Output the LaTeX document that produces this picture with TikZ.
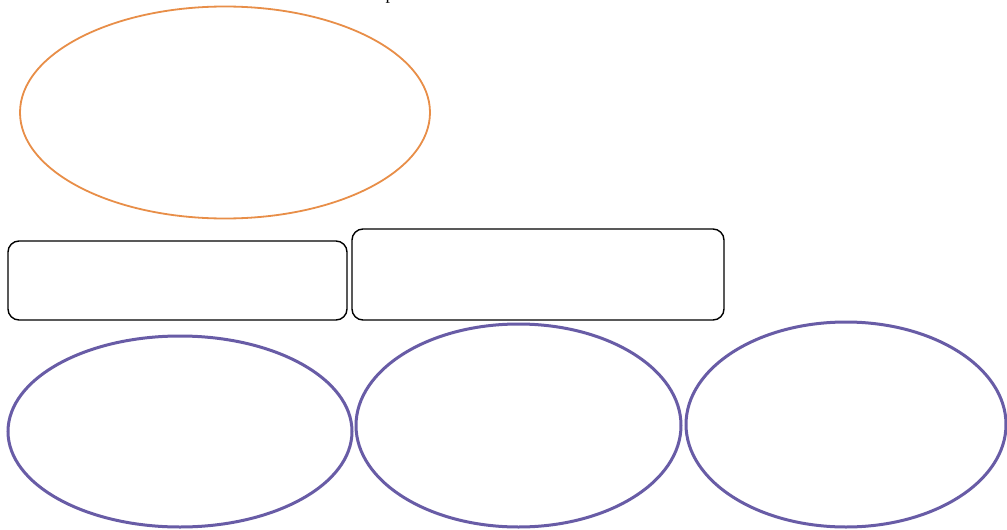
\documentclass[tikz,border=0pt]{standalone}
\usepackage{fontspec}
\setmainfont{Liberation Serif}
\usetikzlibrary{shapes.geometric}
\definecolor{orangeline}{RGB}{232,142,72}
\definecolor{purpleline}{RGB}{104,92,166}
\tikzset{
  topoval/.style={ellipse, draw=orangeline, line width=1.8pt, inner sep=0pt},
  lowoval/.style={ellipse, draw=purpleline, line width=3pt, inner sep=0pt},
  box/.style={draw=black, line width=1.4pt, rounded corners=11pt, inner sep=0pt}
}
\begin{document}
\begin{tikzpicture}[x=1pt,y=-1pt]
\useasboundingbox (0,0) rectangle (1007,530);
\fill[white] (0,0) rectangle (1007,530);
% top oval
\node[topoval, minimum width=410pt, minimum height=212pt] (top) at (225,112.5) {};
% cut-off text at top edge
\node[anchor=base, inner sep=0pt, font=\fontsize{18}{20}\selectfont] (ptext) at (390,-1) {p};
% boxes
\node[box, minimum width=339pt, minimum height=79pt] (boxa) at (177.5,280.5) {};
\node[box, minimum width=372pt, minimum height=91pt] (boxb) at (538,274.5) {};
% lower ovals
\node[lowoval, minimum width=344pt, minimum height=191pt] (ova) at (180,431.5) {};
\node[lowoval, minimum width=325pt, minimum height=203pt] (ovb) at (518.5,425.5) {};
\node[lowoval, minimum width=320pt, minimum height=205pt] (ovc) at (846,424.5) {};
\end{tikzpicture}
\end{document}
